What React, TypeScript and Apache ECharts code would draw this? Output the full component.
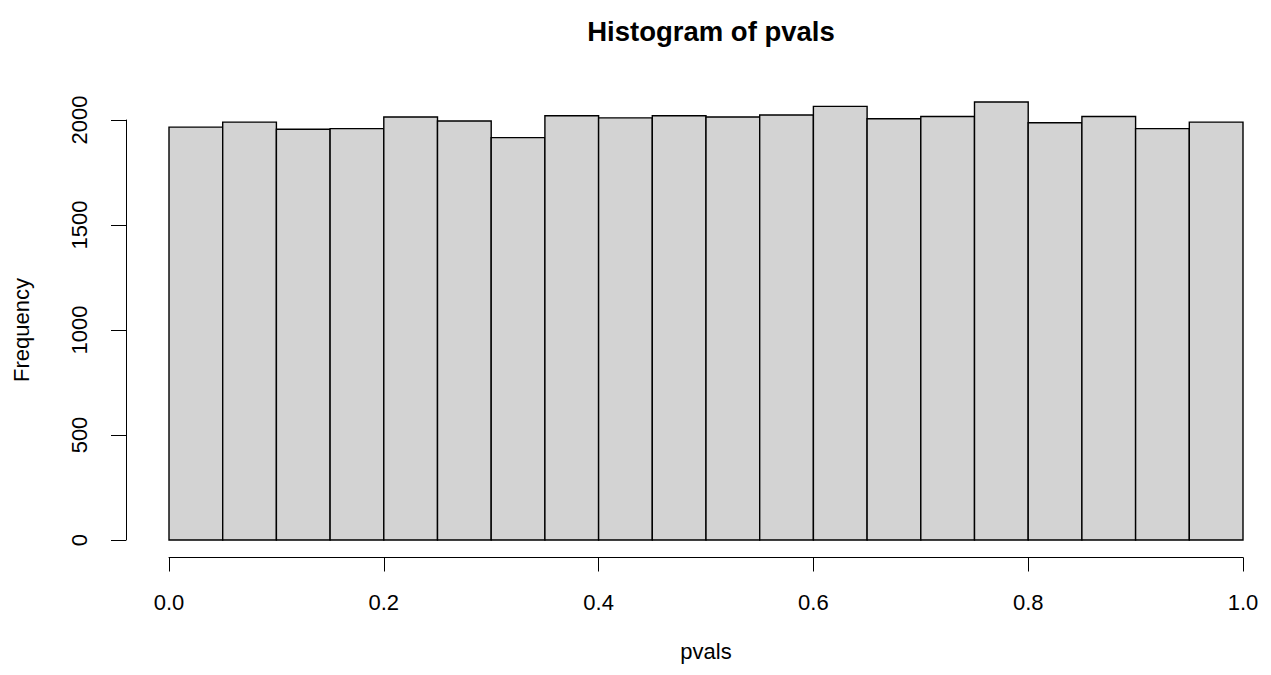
import React, { useEffect, useRef } from "react";
import * as echarts from "echarts";

const breaks = [0, 0.05, 0.1, 0.15, 0.2, 0.25, 0.3, 0.35, 0.4, 0.45, 0.5, 0.55, 0.6, 0.65, 0.7, 0.75, 0.8, 0.85, 0.9, 0.95, 1.0];
const counts = [1966, 1990, 1956, 1959, 2014, 1995, 1916, 2020, 2010, 2020, 2014, 2024, 2065, 2006, 2017, 2086, 1987, 2017, 1959, 1990];
const xTicks = [0, 0.2, 0.4, 0.6, 0.8, 1.0];
const yTicks = [0, 500, 1000, 1500, 2000];

const FONT = "'Liberation Sans', Arial, Helvetica, sans-serif";

export default function App() {
  const ref = useRef<HTMLDivElement>(null);
  useEffect(() => {
    if (!ref.current) return;
    const chart = echarts.init(ref.current, null, { renderer: "svg" });
    const data = counts.map((c, i) => [breaks[i], breaks[i + 1], c]);
    chart.setOption({
      animation: false,
      backgroundColor: "#ffffff",
      textStyle: { fontFamily: FONT },
      title: {
        text: "Histogram of pvals",
        left: 706,
        textAlign: "center",
        top: 12,
        textStyle: { fontFamily: FONT, fontWeight: "bold", fontSize: 27.5, color: "#000" },
      },
      grid: { left: 169, right: 28, top: 120, bottom: 135 },
      xAxis: {
        type: "value",
        min: 0,
        max: 1,
        interval: 0.2,
        offset: 17.5,
        name: "pvals",
        nameLocation: "middle",
        nameGap: 83,
        nameTextStyle: { fontFamily: FONT, fontSize: 22, color: "#000" },
        axisLine: { show: true, onZero: false, lineStyle: { color: "#000", width: 1 } },
        axisTick: { show: true, length: 14, lineStyle: { color: "#000", width: 1 }, customValues: xTicks },
        axisLabel: {
          customValues: xTicks,
          formatter: (v: number) => v.toFixed(1),
          fontFamily: FONT,
          fontSize: 22,
          color: "#000",
          margin: 34,
        },
        splitLine: { show: false },
      },
      yAxis: {
        type: "value",
        min: 0,
        max: 2000,
        interval: 500,
        offset: 43,
        name: "Frequency",
        nameLocation: "middle",
        nameRotate: 90,
        nameGap: 94,
        nameTextStyle: { fontFamily: FONT, fontSize: 22, color: "#000" },
        axisLine: { show: true, onZero: false, lineStyle: { color: "#000", width: 1 } },
        axisTick: { show: true, length: 15, lineStyle: { color: "#000", width: 1 }, customValues: yTicks },
        axisLabel: {
          customValues: yTicks,
          formatter: (v: number) => String(v),
          rotate: 90,
          fontFamily: FONT,
          fontSize: 22,
          color: "#000",
          margin: 36,
        },
        splitLine: { show: false },
      },
      series: [
        {
          type: "custom",
          clip: false,
          data,
          encode: { x: [0, 1], y: 2 },
          renderItem: (params: any, api: any) => {
            const p0 = api.coord([api.value(0), api.value(2)]);
            const p1 = api.coord([api.value(1), 0]);
            return {
              type: "rect",
              shape: { x: p0[0], y: p0[1], width: p1[0] - p0[0], height: p1[1] - p0[1] },
              style: { fill: "#D3D3D3", stroke: "#000", lineWidth: 1.4 },
            };
          },
        },
      ],
    });
    return () => chart.dispose();
  }, []);
  return (
    <div
      ref={ref}
      style={{ position: "fixed", left: 0, top: 0, width: 1271, height: 675, background: "#fff" }}
    />
  );
}
